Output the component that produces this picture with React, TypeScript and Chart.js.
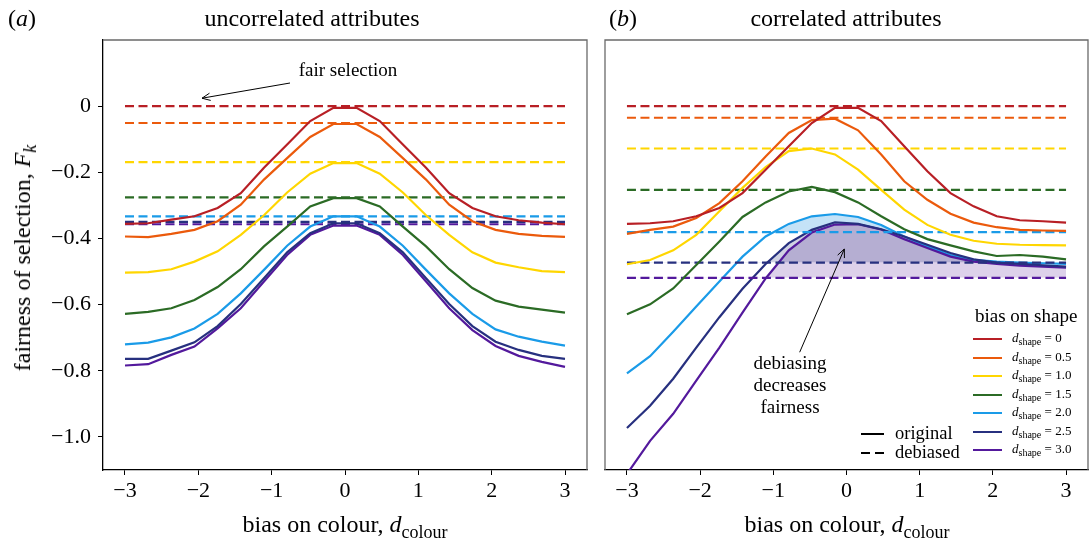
import React, { useEffect, useRef } from "react";
import { Chart, registerables } from "chart.js";
Chart.register(...registerables);

const FONT = '"Liberation Serif", "Times New Roman", serif';

// x positions (bias on colour)
const dColour = [-3, -2.684, -2.368, -2.053, -1.737, -1.421, -1.105, -0.789, -0.474, -0.158, 0.158, 0.474, 0.789, 1.105, 1.421, 1.737, 2.053, 2.368, 2.684, 3];
const xTicks = [-3, -2, -1, 0, 1, 2, 3];
const yTicks = [-1.0, -0.8, -0.6, -0.4, -0.2, 0];
const shapeLabels = ["0", "0.5", "1.0", "1.5", "2.0", "2.5", "3.0"];
const shapeColours = ["#b81f25", "#eb5a0c", "#ffd600", "#2b6b25", "#1a9be8", "#27307f", "#53199c"];

// (a) uncorrelated attributes – original
const aOrig0 = [-0.356, -0.354, -0.343, -0.333, -0.308, -0.263, -0.186, -0.116, -0.045, -0.005, -0.005, -0.045, -0.116, -0.186, -0.263, -0.308, -0.333, -0.345, -0.352, -0.357];
const aOrig05 = [-0.394, -0.396, -0.386, -0.374, -0.348, -0.298, -0.222, -0.157, -0.093, -0.054, -0.054, -0.093, -0.157, -0.222, -0.298, -0.348, -0.374, -0.386, -0.392, -0.395];
const aOrig10 = [-0.503, -0.502, -0.493, -0.470, -0.439, -0.389, -0.330, -0.261, -0.204, -0.172, -0.172, -0.204, -0.261, -0.330, -0.389, -0.442, -0.473, -0.487, -0.499, -0.502];
const aOrig15 = [-0.628, -0.622, -0.611, -0.586, -0.547, -0.493, -0.424, -0.364, -0.303, -0.278, -0.278, -0.303, -0.364, -0.424, -0.493, -0.550, -0.588, -0.606, -0.615, -0.624];
const aOrig20 = [-0.720, -0.715, -0.699, -0.672, -0.628, -0.566, -0.495, -0.422, -0.364, -0.333, -0.333, -0.364, -0.422, -0.495, -0.566, -0.628, -0.675, -0.697, -0.712, -0.724];
const aOrig25 = [-0.764, -0.764, -0.739, -0.714, -0.665, -0.598, -0.520, -0.442, -0.384, -0.354, -0.354, -0.384, -0.442, -0.520, -0.598, -0.665, -0.712, -0.737, -0.755, -0.764];
const aOrig30 = [-0.784, -0.780, -0.752, -0.727, -0.672, -0.611, -0.530, -0.450, -0.389, -0.361, -0.361, -0.389, -0.450, -0.530, -0.611, -0.677, -0.725, -0.755, -0.773, -0.788];
// (a) debiased (constant per shape bias)
const aDebiased = [0, -0.051, -0.169, -0.276, -0.333, -0.350, -0.357];

// (b) correlated attributes – original
const bOrig0 = [-0.356, -0.354, -0.348, -0.333, -0.308, -0.263, -0.192, -0.121, -0.051, -0.005, -0.005, -0.045, -0.121, -0.197, -0.263, -0.303, -0.333, -0.345, -0.348, -0.352];
const bOrig05 = [-0.386, -0.374, -0.364, -0.338, -0.293, -0.227, -0.152, -0.081, -0.042, -0.038, -0.073, -0.146, -0.227, -0.283, -0.325, -0.352, -0.366, -0.374, -0.376, -0.377];
const bOrig10 = [-0.478, -0.465, -0.436, -0.389, -0.318, -0.247, -0.184, -0.136, -0.128, -0.146, -0.192, -0.253, -0.313, -0.359, -0.389, -0.407, -0.416, -0.419, -0.420, -0.421];
const bOrig15 = [-0.629, -0.599, -0.551, -0.480, -0.409, -0.335, -0.291, -0.258, -0.244, -0.260, -0.291, -0.333, -0.372, -0.402, -0.421, -0.439, -0.453, -0.450, -0.455, -0.463];
const bOrig20 = [-0.808, -0.756, -0.682, -0.606, -0.530, -0.455, -0.394, -0.356, -0.333, -0.326, -0.335, -0.359, -0.394, -0.424, -0.450, -0.465, -0.470, -0.473, -0.475, -0.477];
const bOrig25 = [-0.973, -0.906, -0.824, -0.730, -0.638, -0.552, -0.477, -0.414, -0.374, -0.351, -0.356, -0.372, -0.394, -0.419, -0.444, -0.463, -0.473, -0.477, -0.481, -0.485];
const bOrig30 = [-1.112, -1.012, -0.930, -0.830, -0.730, -0.624, -0.521, -0.436, -0.382, -0.358, -0.357, -0.373, -0.402, -0.429, -0.455, -0.470, -0.477, -0.482, -0.485, -0.488];
// (b) debiased
const bDebiased = [0, -0.035, -0.128, -0.253, -0.381, -0.473, -0.519];

const aOriginal = [aOrig0, aOrig05, aOrig10, aOrig15, aOrig20, aOrig25, aOrig30];
const bOriginal = [bOrig0, bOrig05, bOrig10, bOrig15, bOrig20, bOrig25, bOrig30];
// shaded regions between original and debiased (panel b): light blue, then lavender, then translucent navy on top
const bFills: (string | null)[] = [null, null, null, null, "rgb(196,226,247)", "rgba(39,48,127,0.22)", "rgb(221,209,234)"];
const bFillOrder = [0, 0, 0, 0, 3, 1, 2];

const minus = "\u2212";
const fmtX = (v: number) => (v < 0 ? minus : "") + Math.abs(v).toString();
const fmtY = (v: number) => (Math.abs(v) < 1e-9 ? "0" : (v < 0 ? minus : "") + Math.abs(v).toFixed(1));

function buildDatasets(orig: number[][], deb: number[], fills: (string | null)[], order: number[]) {
  const ds: any[] = [];
  orig.forEach((vals, i) =>
    ds.push({
      data: dColour.map((x, j) => ({ x, y: vals[j] })),
      borderColor: shapeColours[i],
      borderWidth: 2.2,
      pointRadius: 0,
      tension: 0,
      order: order[i],
      fill: fills[i] ? { target: { value: deb[i] }, above: fills[i], below: "rgba(0,0,0,0)" } : false,
    })
  );
  deb.forEach((v, i) =>
    ds.push({
      data: [
        { x: dColour[0], y: v },
        { x: dColour[dColour.length - 1], y: v },
      ],
      borderColor: shapeColours[i],
      borderWidth: 2.2,
      borderDash: [9, 4.5],
      pointRadius: 0,
      order: 0,
      fill: false,
    })
  );
  return ds;
}

function arrowPlugin(arrows: { from: [number, number]; to: [number, number] }[]) {
  return {
    id: "arrows",
    afterDatasetsDraw(chart: any) {
      const { ctx } = chart;
      const xs = chart.scales.x;
      const ys = chart.scales.y;
      ctx.save();
      ctx.strokeStyle = "#000";
      ctx.lineWidth = 1;
      for (const a of arrows) {
        const x1 = xs.getPixelForValue(a.from[0]);
        const y1 = ys.getPixelForValue(a.from[1]);
        const x2 = xs.getPixelForValue(a.to[0]);
        const y2 = ys.getPixelForValue(a.to[1]);
        ctx.beginPath();
        ctx.moveTo(x1, y1);
        ctx.lineTo(x2, y2);
        ctx.stroke();
        const ang = Math.atan2(y2 - y1, x2 - x1);
        const L = 9;
        const w = 0.42;
        ctx.beginPath();
        ctx.moveTo(x2 - L * Math.cos(ang - w), y2 - L * Math.sin(ang - w));
        ctx.lineTo(x2, y2);
        ctx.lineTo(x2 - L * Math.cos(ang + w), y2 - L * Math.sin(ang + w));
        ctx.stroke();
      }
      ctx.restore();
    },
  };
}

function framePlugin(drawLeft: boolean) {
  return {
    id: "frame",
    afterDraw(chart: any) {
      const { ctx, chartArea: a } = chart;
      ctx.save();
      ctx.strokeStyle = "#6a6a6a";
      ctx.lineWidth = 1.3;
      ctx.beginPath();
      if (drawLeft) {
        ctx.moveTo(a.left, a.bottom);
        ctx.lineTo(a.left, a.top);
      } else {
        ctx.moveTo(a.left, a.top);
      }
      ctx.lineTo(a.right, a.top);
      ctx.lineTo(a.right, a.bottom);
      ctx.stroke();
      ctx.restore();
    },
  };
}

function makeOptions(showY: boolean, padLeft: number, padRight: number) {
  return {
    animation: false,
    responsive: false,
    maintainAspectRatio: false,
    layout: { padding: { top: 40, left: padLeft, right: padRight, bottom: 0 } },
    plugins: {
      legend: { display: false },
      tooltip: { enabled: false },
      filler: { drawTime: "beforeDatasetsDraw" },
    },
    scales: {
      x: {
        type: "linear",
        min: -3.3,
        max: 3.3,
        afterBuildTicks: (s: any) => {
          s.ticks = xTicks.map((v) => ({ value: v }));
        },
        afterFit: (s: any) => {
          s.height = 77;
        },
        ticks: {
          callback: (v: any) => fmtX(Number(v)),
          font: { family: FONT, size: 22 },
          color: "#000",
          padding: 3,
          maxRotation: 0,
          autoSkip: false,
        },
        grid: { display: true, drawOnChartArea: false, drawTicks: true, tickLength: 5, tickWidth: 1, tickColor: "#000" },
        border: { display: true, color: "#000", width: 1.3 },
      },
      y: {
        type: "linear",
        display: showY,
        min: -1.1,
        max: 0.2,
        afterBuildTicks: (s: any) => {
          s.ticks = yTicks.map((v) => ({ value: v }));
        },
        afterFit: (s: any) => {
          s.width = showY ? 103 : 0;
        },
        ticks: {
          callback: (v: any) => fmtY(Number(v)),
          font: { family: FONT, size: 22 },
          color: "#000",
          padding: 7,
          autoSkip: false,
        },
        grid: { display: true, drawOnChartArea: false, drawTicks: true, tickLength: 5, tickWidth: 1, tickColor: "#000" },
        border: { display: true, color: "#000", width: 1.3 },
      },
    },
  };
}

const abs = (s: React.CSSProperties): React.CSSProperties => ({ position: "absolute", whiteSpace: "nowrap", ...s });

function Centered({ cx, cy, size, children }: { cx: number; cy: number; size: number; children: React.ReactNode }) {
  return (
    <div style={abs({ left: cx, top: cy, fontSize: size, lineHeight: 1, transform: "translate(-50%,-50%)" })}>{children}</div>
  );
}

export default function App() {
  const refA = useRef<HTMLCanvasElement>(null);
  const refB = useRef<HTMLCanvasElement>(null);

  useEffect(() => {
    const chartA = new Chart(refA.current as HTMLCanvasElement, {
      type: "line",
      data: { datasets: buildDatasets(aOriginal, aDebiased, [null, null, null, null, null, null, null], [0, 0, 0, 0, 0, 0, 0]) },
      options: makeOptions(true, 0, 8) as any,
      plugins: [framePlugin(false), arrowPlugin([{ from: [-0.75, 0.07], to: [-1.95, 0.024] }])],
    });
    const chartB = new Chart(refB.current as HTMLCanvasElement, {
      type: "line",
      data: { datasets: buildDatasets(bOriginal, bDebiased, bFills, bFillOrder) },
      options: makeOptions(false, 10, 1) as any,
      plugins: [framePlugin(true), arrowPlugin([{ from: [-0.64, -0.744], to: [-0.03, -0.432] }])],
    });
    return () => {
      chartA.destroy();
      chartB.destroy();
    };
  }, []);

  const legendRowY = [339, 357.5, 376, 394.5, 413, 431.5, 450];

  return (
    <div style={{ position: "fixed", left: 0, top: 0, width: 1089, height: 547, background: "#fff", fontFamily: FONT, color: "#000", overflow: "hidden" }}>
      <canvas ref={refA} width={595} height={547} style={abs({ left: 0, top: 0, width: 595, height: 547 })} />
      <canvas ref={refB} width={494} height={547} style={abs({ left: 595, top: 0, width: 494, height: 547 })} />

      {/* panel labels and titles */}
      <div style={abs({ left: 8, top: 6, fontSize: 24, lineHeight: "24px" })}>
        (<i>a</i>)
      </div>
      <Centered cx={312} cy={18} size={24}>uncorrelated attributes</Centered>
      <div style={abs({ left: 609, top: 6, fontSize: 24, lineHeight: "24px" })}>
        (<i>b</i>)
      </div>
      <Centered cx={846} cy={18} size={24}>correlated attributes</Centered>

      {/* annotations */}
      <Centered cx={348} cy={69} size={19}>fair selection</Centered>
      <div style={abs({ left: 790, top: 352, fontSize: 19, lineHeight: "22px", textAlign: "center", transform: "translateX(-50%)" })}>
        debiasing
        <br />
        decreases
        <br />
        fairness
      </div>

      {/* axis labels */}
      <Centered cx={345} cy={524} size={24}>
        bias on colour, <i>d</i>
        <span style={{ fontSize: 18, position: "relative", top: 6 }}>colour</span>
      </Centered>
      <Centered cx={847} cy={524} size={24}>
        bias on colour, <i>d</i>
        <span style={{ fontSize: 18, position: "relative", top: 6 }}>colour</span>
      </Centered>
      <div style={abs({ left: 22, top: 258, fontSize: 24, lineHeight: 1, transform: "translate(-50%,-50%) rotate(-90deg)" })}>
        fairness of selection, <i>F</i>
        <span style={{ fontSize: 18, position: "relative", top: 6 }}>
          <i>k</i>
        </span>
      </div>

      {/* legend: line style */}
      <div style={abs({ left: 861, top: 433, width: 23, height: 0, borderTop: "2.5px solid #000" })} />
      <div style={abs({ left: 895, top: 423, fontSize: 18.5, lineHeight: "20px" })}>original</div>
      <div style={abs({ left: 861, top: 452, width: 9, height: 0, borderTop: "2.5px solid #000" })} />
      <div style={abs({ left: 875, top: 452, width: 9, height: 0, borderTop: "2.5px solid #000" })} />
      <div style={abs({ left: 895, top: 442, fontSize: 18.5, lineHeight: "20px" })}>debiased</div>

      {/* legend: bias on shape */}
      <div style={abs({ left: 975, top: 305, fontSize: 19, lineHeight: "22px" })}>bias on shape</div>
      {shapeLabels.map((lab, i) => (
        <React.Fragment key={lab}>
          <div style={abs({ left: 973, top: legendRowY[i] - 1, width: 29, height: 0, borderTop: `2.5px solid ${shapeColours[i]}` })} />
          <div style={abs({ left: 1012, top: legendRowY[i] - 9, fontSize: 13, lineHeight: "16px" })}>
            <i>d</i>
            <span style={{ fontSize: 10, position: "relative", top: 3 }}>shape</span> = {lab}
          </div>
        </React.Fragment>
      ))}
    </div>
  );
}
